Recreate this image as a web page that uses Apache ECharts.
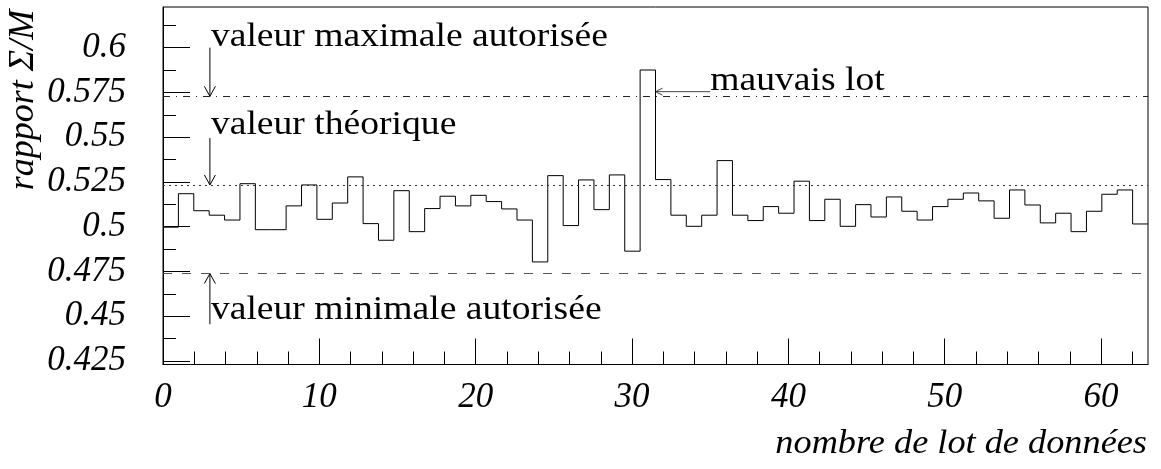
<!DOCTYPE html>
<html>
<head>
<meta charset="utf-8">
<script src="https://cdn.jsdelivr.net/npm/echarts@6/dist/echarts.min.js"></script>
<style>
  html, body { margin: 0; padding: 0; background: #fff; }
  #chart { width: 1161px; height: 469px; }
</style>
</head>
<body>
<div id="chart"></div>
<script>
// Σ/M ratio for each data batch (64 bins spanning 0..63)
const binValues = [
  0.4997, 0.5184, 0.5089, 0.5064, 0.5037, 0.5240, 0.4983, 0.4983,
  0.5116, 0.5233, 0.5041, 0.5132, 0.5278, 0.5017, 0.4924, 0.5201,
  0.4972, 0.5101, 0.5170, 0.5116, 0.5175, 0.5140, 0.5099, 0.5037,
  0.4803, 0.5285, 0.5006, 0.5261, 0.5095, 0.5289, 0.4863, 0.5875,
  0.5263, 0.5064, 0.5002, 0.5064, 0.5369, 0.5064, 0.5034, 0.5112,
  0.5075, 0.5254, 0.5034, 0.5153, 0.5002, 0.5123, 0.5054, 0.5166,
  0.5086, 0.5037, 0.5112, 0.5153, 0.5188, 0.5144, 0.5047, 0.5205,
  0.5121, 0.5021, 0.5075, 0.4972, 0.5086, 0.5181, 0.5205, 0.5015
];
const xRange = [0, 63];
const yRange = [0.423, 0.6227];

// Reference levels
const theoreticalValue = 0.5233;
const maxAllowedValue = 0.5728;
const minAllowedValue = 0.4738;

// Axis ticks and labels
const xTickLabels = [0, 10, 20, 30, 40, 50, 60];
const xMinorTicks = [2, 4, 6, 8, 12, 14, 16, 18, 22, 24, 26, 28, 32, 34, 36, 38,
                     42, 44, 46, 48, 52, 54, 56, 58, 62];
const yTickLabels = [0.425, 0.45, 0.475, 0.5, 0.525, 0.55, 0.575, 0.6];
const yMinorTicks = [0.4375, 0.4625, 0.4875, 0.5125, 0.5375, 0.5625, 0.5875, 0.6125];

// Annotation anchors (data coordinates)
const annotX = 3;
const badBatchIndex = 31;
const badLabelAt = [35, 0.5754];

const FONT = '"Liberation Serif", "Times New Roman", serif';
const STRETCH = 1.14;

// Histogram outline: one point per bin low edge, plus the closing edge
const binWidth = (xRange[1] - xRange[0]) / binValues.length;
const stepData = binValues.map((v, i) => [xRange[0] + i * binWidth, v]);
stepData.push([xRange[1], binValues[binValues.length - 1]]);

const chart = echarts.init(document.getElementById('chart'), null, { renderer: 'canvas' });

const tickLabelStyle = {
  color: '#000', fontFamily: FONT, fontStyle: 'italic', fontSize: 35
};

chart.setOption({
  animation: false,
  backgroundColor: '#fff',
  grid: {
    left: 163, right: 13, top: 7, bottom: 104.5,
    show: true, borderColor: '#000', borderWidth: 1, backgroundColor: 'transparent'
  },
  xAxis: [
    {
      type: 'value', min: xRange[0], max: xRange[1],
      axisLine: { show: true, onZero: false, lineStyle: { color: '#000', width: 1 } },
      axisTick: { show: true, inside: true, length: 26, customValues: xTickLabels,
                  lineStyle: { color: '#000', width: 1 } },
      axisLabel: Object.assign({ show: true, margin: 16, customValues: xTickLabels }, tickLabelStyle),
      splitLine: { show: false }
    },
    {
      type: 'value', min: xRange[0], max: xRange[1], position: 'bottom', offset: 0,
      axisLine: { show: false },
      axisTick: { show: true, inside: true, length: 13, customValues: xMinorTicks,
                  lineStyle: { color: '#000', width: 1 } },
      axisLabel: { show: false },
      splitLine: { show: false }
    }
  ],
  yAxis: [
    {
      type: 'value', min: yRange[0], max: yRange[1], position: 'left',
      axisLine: { show: true, onZero: false, lineStyle: { color: '#000', width: 1 } },
      axisTick: { show: true, inside: true, length: 27, customValues: yTickLabels,
                  lineStyle: { color: '#000', width: 1 } },
      axisLabel: Object.assign({ show: true, margin: 37, customValues: yTickLabels }, tickLabelStyle),
      splitLine: { show: false }
    },
    {
      type: 'value', min: yRange[0], max: yRange[1], position: 'left', offset: 0,
      axisLine: { show: false },
      axisTick: { show: true, inside: true, length: 13, customValues: yMinorTicks,
                  lineStyle: { color: '#000', width: 1 } },
      axisLabel: { show: false },
      splitLine: { show: false }
    }
  ],
  series: [
    {
      type: 'line',
      xAxisIndex: 0, yAxisIndex: 0,
      data: stepData,
      step: 'end',
      showSymbol: false,
      symbol: 'none',
      lineStyle: { color: '#000', width: 1 },
      emphasis: { disabled: true },
      silent: true,
      markLine: {
        silent: true,
        symbol: 'none',
        precision: 4,
        label: { show: false },
        emphasis: { disabled: true },
        data: [
          { yAxis: maxAllowedValue, lineStyle: { type: [7, 6, 1, 6], color: '#222', width: 1 } },
          { yAxis: theoreticalValue, lineStyle: { type: [2, 4], color: '#333', width: 1 } },
          { yAxis: minAllowedValue, lineStyle: { type: [9, 10], color: '#555', width: 1 } }
        ]
      }
    }
  ]
});

// Annotations placed through the grid's own coordinate system
function px(x, y) { return chart.convertToPixel({ gridIndex: 0 }, [x, y]); }

function vArrow(from, to) {
  const a = px(from[0], from[1]);
  const b = px(to[0], to[1]);
  const dir = b[1] > a[1] ? 1 : -1;
  return [
    { type: 'polyline', silent: true, shape: { points: [a, b] },
      style: { stroke: '#000', lineWidth: 1, fill: null } },
    { type: 'polyline', silent: true,
      shape: { points: [[b[0] - 5.5, b[1] - dir * 10], b, [b[0] + 5.5, b[1] - dir * 10]] },
      style: { stroke: '#000', lineWidth: 1, fill: null } }
  ];
}

function hArrow(from, to) {
  const a = px(from[0], from[1]);
  const b = px(to[0], to[1]);
  const dir = b[0] > a[0] ? 1 : -1;
  return [
    { type: 'polyline', silent: true, shape: { points: [a, b] },
      style: { stroke: '#444', lineWidth: 1, fill: null } },
    { type: 'polyline', silent: true,
      shape: { points: [[b[0] - dir * 7, b[1] - 3.5], b, [b[0] - dir * 7, b[1] + 3.5]] },
      style: { stroke: '#444', lineWidth: 1, fill: null } }
  ];
}

// Text with its baseline at the given data point
function label(text, at, dx) {
  const p = px(at[0], at[1]);
  return {
    type: 'text', silent: true,
    x: p[0] + (dx || 0), y: p[1] - 10, scaleX: STRETCH,
    style: { text: text, font: '33px ' + FONT, fill: '#000', align: 'left', verticalAlign: 'middle' }
  };
}

const spikeRight = xRange[0] + (badBatchIndex + 1) * binWidth;

const graphics = [].concat(
  vArrow([annotX, 0.6], [annotX, maxAllowedValue]),
  [label('valeur maximale autorisée', [annotX, 0.6], 1)],
  vArrow([annotX, 0.5495], [annotX, theoreticalValue]),
  [label('valeur théorique', [annotX, 0.551], 1)],
  vArrow([annotX, 0.4455], [annotX, minAllowedValue]),
  [label('valeur minimale autorisée', [annotX, 0.4478], 1)],
  hArrow(badLabelAt, [spikeRight, badLabelAt[1]]),
  [label('mauvais lot', badLabelAt, 0)],
  [
    {
      type: 'text', silent: true, x: 1147, y: 444, scaleX: 1.1,
      style: { text: 'nombre de lot de données', font: 'italic 33px ' + FONT, fill: '#000',
               align: 'right', verticalAlign: 'middle' }
    },
    {
      type: 'text', silent: true, x: 24, y: 100, rotation: Math.PI / 2,
      style: { text: 'rapport Σ/M', font: 'italic 36px ' + FONT, fill: '#000',
               align: 'center', verticalAlign: 'middle' }
    }
  ]
);

chart.setOption({ graphic: graphics });
</script>
</body>
</html>
